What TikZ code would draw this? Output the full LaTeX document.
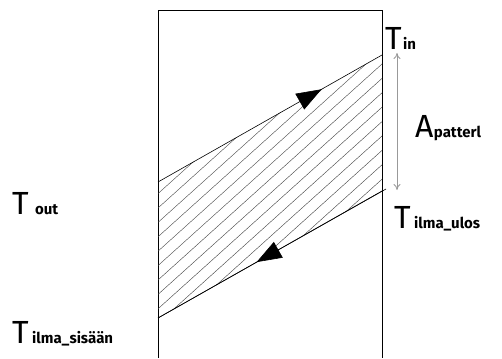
\documentclass[tikz,border=0pt]{standalone}
\usepackage{fontspec}
\setmainfont{Fira Sans}
\usetikzlibrary{arrows.meta, decorations.markings, positioning}
\tikzset{
  wall/.style={thin},
  flow/.style={semithick},
  hatch/.style={black!75, thin},
  bigT/.style={font=\fontsize{32}{32}\selectfont, inner sep=0pt, anchor=base west},
  sub/.style={font=\fontsize{15}{15}\selectfont\bfseries, inner sep=0pt, anchor=base west},
  span/.style={{To[length=6pt,width=7pt]}-{To[length=6pt,width=7pt]}, gray!80, thick},
  midtip/.style={postaction={decorate}, decoration={markings,
      mark=at position #1 with {\arrow{Triangle[length=25pt,width=18pt]}}}},
}

\begin{document}
\begin{tikzpicture}[x=1pt, y=-1pt]
  \useasboundingbox (0,0) rectangle (502,358);

  % corners of the hatched band
  \coordinate (hotL) at (158,182);
  \coordinate (hotR) at (382,55);
  \coordinate (coldL) at (158,318);
  \coordinate (coldR) at (382,191);
  \coordinate (coldX) at (386,189);

  % walls
  \draw[wall] (158,358) -- (158,10) -- (382,10) -- (382,358);

  % hatching
  \begin{scope}
    \clip (hotL) -- (hotR) -- (coldR) -- (coldL) -- cycle;
    \foreach \c in {100,114.4,...,440}
      \draw[hatch] (150,\c) -- (390,\c-216);
  \end{scope}

  % flows
  \draw[flow, midtip=0.73] (hotL) -- (hotR);
  \draw[flow] (coldX) -- (coldL);
  \draw[flow, midtip=0.56] (coldR) -- (coldL);

  % labels
  \node[bigT] (tin) at (385,50) {T};
  \node[sub, right=1pt of tin.base east, anchor=base west] (tinS) {in};

  \coordinate (spanTop) at (397,53);
  \coordinate (spanBot) at (397,190);
  \draw[span] (spanTop) -- (spanBot);

  \node[bigT] (ap) at (415,137) {A};
  \node[sub, right=0pt of ap.base east, anchor=base west] (apS) {patterl};

  \node[bigT] (tout) at (12,214) {T};
  \node[sub, right=6pt of tout.base east, anchor=base west] (toutS) {out};

  \node[bigT] (tul) at (394,228) {T};
  \node[sub, right=3pt of tul.base east, anchor=base west] (tulS) {ilma\_ulos};

  \node[bigT] (tsis) at (12,343) {T};
  \node[sub, right=3pt of tsis.base east, anchor=base west] (tsisS) {ilma\_sisään};
\end{tikzpicture}
\end{document}
